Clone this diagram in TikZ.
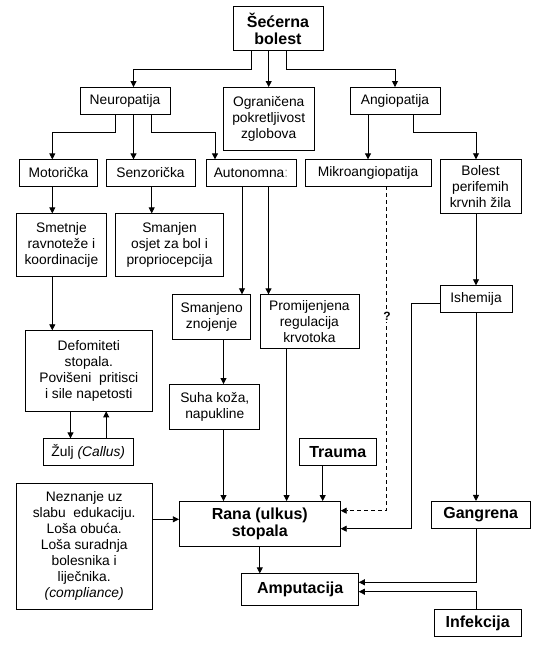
\documentclass[tikz,border=0pt]{standalone}
\usepackage{fontspec}
\setmainfont{Liberation Sans}
\usetikzlibrary{arrows.meta, positioning, calc}

\begin{document}
\begin{tikzpicture}[
    x=1pt, y=-1pt,
    >={Triangle[length=6pt,width=6pt]},
    line width=0.8pt,
    every node/.style={font=\fontsize{13.8}{16}\selectfont},  % plain text size
]

% Styles for boxes and lines
\tikzset{
    box/.style={draw, align=center, inner sep=1pt, outer sep=0pt},
    boldbox/.style={box, font=\fontsize{16}{17.5}\selectfont\bfseries},
    maybeline/.style={dash pattern=on 4pt off 3pt},
}

\useasboundingbox[fill=white] (0,0) rectangle (546,646);

% Top box
\node[boldbox, minimum width=90pt, minimum height=44pt] (sec) at (278,28.8) {Šećerna\\bolest};

% Second row
\node[box, minimum width=90pt, minimum height=27.3pt] (neuro) at (125,100.7) {Neuropatija};
\node[box, minimum width=90.5pt, minimum height=63pt] (ogr) at (268.7,118.5) {Ograničena\\pokretljivost\\zglobova};
\node[box, minimum width=90pt, minimum height=27.3pt] (angio) at (395,100.7) {Angiopatija};

% Third row
\node[box, minimum width=78pt, minimum height=26.7pt] (motor) at (58.5,172.7) {Motorička};
\node[box, minimum width=89pt, minimum height=26.7pt] (senz) at (150.5,172.7) {Senzorička};
\node[box, minimum width=90pt, minimum height=26.7pt] (auto) at (251,172.7) {Autonomna{\color{black!40}:}};
\node[box, minimum width=126pt, minimum height=26.7pt] (mikro) at (368,172.7) {Mikroangiopatija};
\node[box, minimum width=81pt, minimum height=54pt] (bolest) at (480.5,186.3) {Bolest\\perifemih\\krvnih žila};

% Fourth row
\node[box, minimum width=90pt, minimum height=62.7pt] (smet) at (61.4,244.7) {Smetnje\\ravnoteže i\\koordinacije};
\node[box, minimum width=108pt, minimum height=62.7pt] (osjet) at (169.5,244.7) {Smanjen\\osjet za bol i\\propriocepcija};
\node[box, minimum width=72pt, minimum height=27pt] (isch) at (476,298.8) {Ishemija};
\node[box, minimum width=78pt, minimum height=45pt] (znoj) at (211.7,316.8) {Smanjeno\\znojenje};
\node[box, minimum width=99pt, minimum height=53.7pt] (krv) at (309.4,321.2) {Promijenjena\\regulacija\\krvotoka};

% Foot boxes
\node[box, minimum width=126.5pt, minimum height=81pt] (defor) at (88.8,370.8) {Defomiteti\\stopala.\\Povišeni\ \ pritisci\\i sile napetosti};
\node[box, minimum width=90pt, minimum height=45.3pt] (suha) at (214.8,406.7) {Suha koža,\\napukline};
\node[box, minimum width=90.5pt, minimum height=26.7pt] (zulj) at (88.3,451.7) {Žulj \textit{(Callus)}};
\node[boldbox, minimum width=77.6pt, minimum height=27pt] (trauma) at (337.8,451.8) {Trauma};

% Bottom part
\node[box, minimum width=135.6pt, minimum height=126pt] (nezn) at (84.2,546.3) {Neznanje uz\\slabu\ \ edukaciju.\\Loša obuća.\\Loša suradnja\\bolesnika i\\liječnika.\\\textit{(compliance)}};
\node[boldbox, minimum width=161.8pt, minimum height=45.3pt] (rana) at (259.8,523.7) {Rana (ulkus)\\stopala};
\node[boldbox, minimum width=98.7pt, minimum height=27.7pt] (gang) at (480.7,514.8) {Gangrena};
\node[boldbox, minimum width=117.2pt, minimum height=31.7pt] (amp) at (300.2,589.2) {Amputacija};
\node[boldbox, minimum width=87.3pt, minimum height=27.4pt] (infek) at (477.7,623) {Infekcija};

% Arrows from the top box
\draw[->] ([xshift=-27pt]sec.south) -- ++(0,18.3) -| ([xshift=8.5pt]neuro.north);
\draw[->] (sec.south -| ogr.north) -- (ogr.north);
\draw[->] ([xshift=8.7pt]sec.south) -- ++(0,18.3) -| (angio.north);

% Neuropatija branches
\draw[->] ([xshift=-9.6pt]neuro.south) -- ++(0,18) -| ([xshift=-6.2pt]motor.north);
\draw[->] ([xshift=8.5pt]neuro.south) -- ([xshift=8.5pt]neuro.south |- senz.north);
\draw[->] ([xshift=26.7pt]neuro.south) -- ++(0,18) -| ([xshift=-36pt]auto.north);

% Angiopatija branches
\draw[->] (mikro.north |- angio.south) -- (mikro.north);
\draw[->] ([xshift=18.6pt]angio.south) -- ++(0,18) -| ([xshift=-4.5pt]bolest.north);

% Down the left and middle
\draw[->] ([xshift=-6.2pt]motor.south) -- ([xshift=-6.2pt]motor.south |- smet.north);
\draw[->] ([xshift=1.2pt]senz.south) -- ([xshift=1.2pt]senz.south |- osjet.north);
\draw[->] ([xshift=-9pt]auto.south) -- ([xshift=-9pt]auto.south |- znoj.north);
\draw[->] ([xshift=17.5pt]auto.south) -- ([xshift=17.5pt]auto.south |- krv.north);
\draw[->] ([xshift=-9.1pt]smet.south) -- ([xshift=-9.1pt]smet.south |- defor.north);
\draw[->] ([xshift=11.8pt]znoj.south) -- ([xshift=11.8pt]znoj.south |- suha.north);
\draw[->] ([xshift=-18.3pt]defor.south) -- ([xshift=-18.3pt]defor.south |- zulj.north);
\draw[->] ([xshift=17.9pt]zulj.north) -- ([xshift=17.9pt]zulj.north |- defor.south);

% Down the right
\draw[->] ([xshift=-4.5pt]bolest.south) -- (isch.north);
\draw[->] (isch.south) -- (isch.south |- gang.north);

% Into the wound box
\draw[->] ([xshift=8.7pt]suha.south) -- ([xshift=8.7pt]suha.south |- rana.north);
\draw[->] ([xshift=-22.8pt]krv.south) -- ([xshift=-22.8pt]krv.south |- rana.north);
\draw[->] ([xshift=-15.1pt]trauma.south) -- ([xshift=-15.1pt]trauma.south |- rana.north);
\draw[->] ([yshift=27pt]nezn.east) -- ([yshift=27pt]nezn.east -| rana.west);
\draw[->, maybeline] ([xshift=18pt]mikro.south) |- ([yshift=13pt]rana.east);
\draw[->] ([yshift=-4.5pt]isch.west) -- ++(-28.3,0) |- ([yshift=-5pt]rana.east);
\node[fill=white, inner sep=1pt, font=\fontsize{12}{12}\selectfont\bfseries] (q) at (387,316.7) {?};

% Into the amputation box
\draw[->] (rana.south) -- (rana.south |- amp.north);
\draw[->] ([xshift=-4.7pt]gang.south) |- ([yshift=6.9pt]amp.east);
\draw[->] ([xshift=-1.7pt]infek.north) |- ([yshift=-2.5pt]amp.east);

\end{tikzpicture}
\end{document}
